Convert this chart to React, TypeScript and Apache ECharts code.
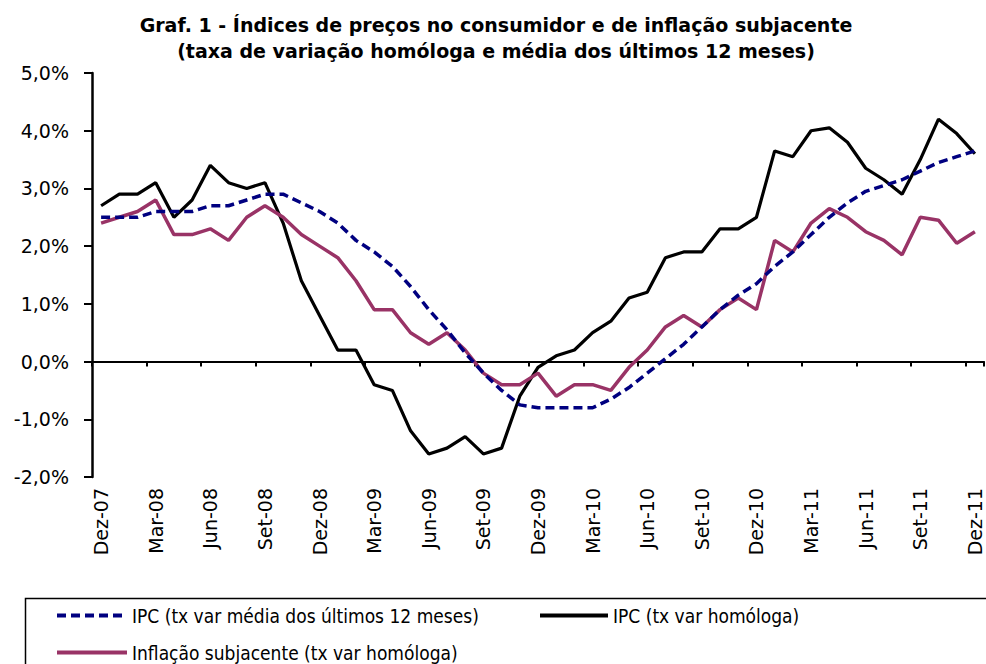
import React, { useEffect, useRef } from 'react';
import * as echarts from 'echarts';

const categories = [
  'Dez-07',
  'Jan-08', 'Fev-08', 'Mar-08', 'Abr-08', 'Mai-08', 'Jun-08', 'Jul-08', 'Ago-08', 'Set-08', 'Out-08', 'Nov-08', 'Dez-08',
  'Jan-09', 'Fev-09', 'Mar-09', 'Abr-09', 'Mai-09', 'Jun-09', 'Jul-09', 'Ago-09', 'Set-09', 'Out-09', 'Nov-09', 'Dez-09',
  'Jan-10', 'Fev-10', 'Mar-10', 'Abr-10', 'Mai-10', 'Jun-10', 'Jul-10', 'Ago-10', 'Set-10', 'Out-10', 'Nov-10', 'Dez-10',
  'Jan-11', 'Fev-11', 'Mar-11', 'Abr-11', 'Mai-11', 'Jun-11', 'Jul-11', 'Ago-11', 'Set-11', 'Out-11', 'Nov-11', 'Dez-11',
];

const ipcMedia12 = [
  2.5, 2.5, 2.5, 2.6, 2.6, 2.6, 2.7, 2.7, 2.8, 2.9, 2.9, 2.75, 2.6,
  2.4, 2.1, 1.9, 1.65, 1.3, 0.9, 0.55, 0.15, -0.2, -0.5, -0.75, -0.8,
  -0.8, -0.8, -0.8, -0.65, -0.45, -0.2, 0.05, 0.3, 0.6, 0.9, 1.15, 1.35,
  1.65, 1.9, 2.2, 2.5, 2.75, 2.95, 3.05, 3.15, 3.3, 3.45, 3.55, 3.65,
];

const ipcHomologa = [
  2.7, 2.9, 2.9, 3.1, 2.5, 2.8, 3.4, 3.1, 3.0, 3.1, 2.4, 1.4, 0.8,
  0.2, 0.2, -0.4, -0.5, -1.2, -1.6, -1.5, -1.3, -1.6, -1.5, -0.6, -0.1,
  0.1, 0.2, 0.5, 0.7, 1.1, 1.2, 1.8, 1.9, 1.9, 2.3, 2.3, 2.5,
  3.65, 3.55, 4.0, 4.05, 3.8, 3.35, 3.15, 2.9, 3.5, 4.2, 3.95, 3.6,
];

const inflacaoSubjacente = [
  2.4, 2.5, 2.6, 2.8, 2.2, 2.2, 2.3, 2.1, 2.5, 2.7, 2.5, 2.2, 2.0,
  1.8, 1.4, 0.9, 0.9, 0.5, 0.3, 0.5, 0.2, -0.2, -0.4, -0.4, -0.2,
  -0.6, -0.4, -0.4, -0.5, -0.1, 0.2, 0.6, 0.8, 0.6, 0.9, 1.1, 0.9,
  2.1, 1.9, 2.4, 2.65, 2.5, 2.25, 2.1, 1.85, 2.5, 2.45, 2.05, 2.25,
];

const seriesNames = [
  'IPC (tx var média dos últimos 12 meses)',
  'IPC (tx var homóloga)',
  'Inflação subjacente (tx var homóloga)',
];

const titleLines = [
  'Graf. 1 - Índices de preços no consumidor e de inflação subjacente',
  '(taxa de variação homóloga e média dos últimos 12 meses)',
];

const FONT = "'DejaVu Sans', Verdana, sans-serif";
const COND = "'DejaVu Sans Condensed', 'DejaVu Sans', sans-serif";

export default function App() {
  const ref = useRef<HTMLDivElement>(null);

  useEffect(() => {
    if (!ref.current) return;
    const chart = echarts.init(ref.current, undefined, { renderer: 'svg' });
    const legendText = { fontFamily: COND, fontSize: 19, color: '#000' };
    const legendCommon = {
      padding: 0,
      itemHeight: 14,
      itemStyle: { opacity: 0 },
      lineStyle: { width: 4 },
      textStyle: legendText,
    };
    chart.setOption({
      animation: false,
      backgroundColor: '#fff',
      title: {
        text: titleLines.join('\n'),
        left: 491,
        textAlign: 'center',
        top: 7,
        textStyle: {
          fontFamily: FONT,
          fontSize: 19,
          fontWeight: 'bold',
          lineHeight: 26,
          color: '#000',
        },
      },
      grid: { left: 92, right: 2, top: 73, bottom: 187, containLabel: false },
      xAxis: [
        {
          type: 'category',
          data: categories,
          boundaryGap: true,
          position: 'bottom',
          axisLine: { show: false, onZero: false },
          axisTick: { show: false },
          axisLabel: {
            interval: 2,
            rotate: 90,
            margin: 11,
            fontFamily: FONT,
            fontSize: 19,
            color: '#000',
          },
          splitLine: { show: false },
        },
        {
          type: 'category',
          data: categories,
          boundaryGap: true,
          position: 'bottom',
          axisLine: { show: true, onZero: true, lineStyle: { color: '#000', width: 2 } },
          axisTick: { show: true, interval: 2, length: 5, inside: false, lineStyle: { color: '#000', width: 2 } },
          axisLabel: { show: false },
          splitLine: { show: false },
        },
      ],
      yAxis: {
        type: 'value',
        min: -2,
        max: 5,
        interval: 1,
        axisLine: { show: true, lineStyle: { color: '#000', width: 2.5 } },
        axisTick: { show: true, length: 8, lineStyle: { color: '#000', width: 2 } },
        axisLabel: {
          margin: 23,
          fontFamily: FONT,
          fontSize: 19,
          color: '#000',
          formatter: (v: number) => v.toFixed(1).replace('.', ',') + '%',
        },
        splitLine: { show: false },
      },
      legend: [
        { ...legendCommon, data: [seriesNames[0]], left: 55, top: 606, itemWidth: 70 },
        { ...legendCommon, data: [seriesNames[1]], left: 538, top: 606, itemWidth: 68 },
        { ...legendCommon, data: [seriesNames[2]], left: 55, top: 643, itemWidth: 70 },
      ],
      graphic: [
        {
          type: 'rect',
          left: 23,
          top: 596,
          shape: { x: 0, y: 0, width: 1000, height: 100 },
          style: { fill: 'none', stroke: '#000', lineWidth: 1.5 },
          silent: true,
        },
      ],
      series: [
        {
          name: seriesNames[0],
          type: 'line',
          data: ipcMedia12,
          symbol: 'none',
          color: '#000080',
          lineStyle: { color: '#000080', width: 3.5, type: [9, 5] },
          z: 3,
        },
        {
          name: seriesNames[1],
          type: 'line',
          data: ipcHomologa,
          symbol: 'none',
          color: '#000000',
          lineStyle: { color: '#000000', width: 3.2 },
          z: 2,
        },
        {
          name: seriesNames[2],
          type: 'line',
          data: inflacaoSubjacente,
          symbol: 'none',
          color: '#993366',
          lineStyle: { color: '#993366', width: 3.5 },
          z: 2,
        },
      ],
    });
    return () => chart.dispose();
  }, []);

  return (
    <div
      ref={ref}
      style={{ position: 'fixed', left: 0, top: 0, width: 986, height: 664, background: '#fff' }}
    />
  );
}
